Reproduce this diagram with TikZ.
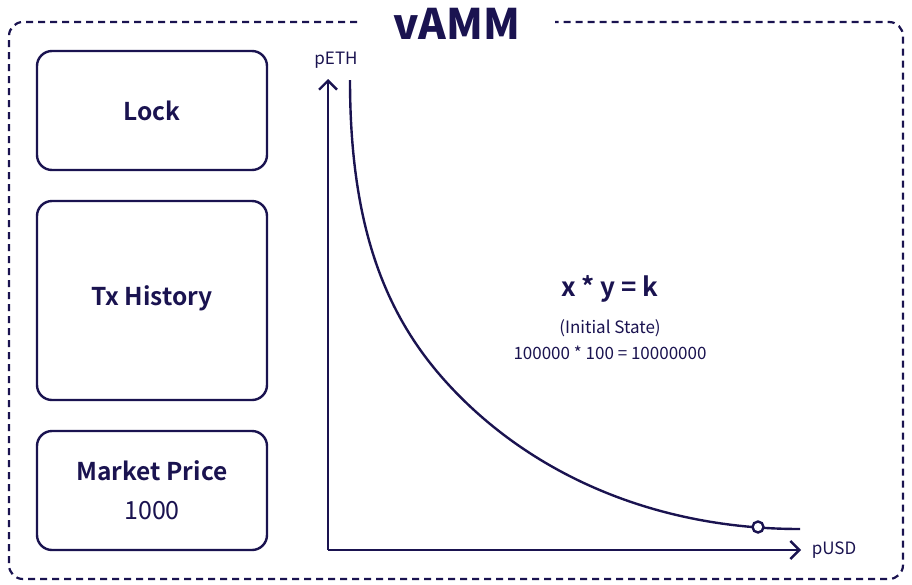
\documentclass[tikz,border=0pt]{standalone}
\usepackage{fontspec}
\setmainfont{Noto Sans CJK KR}[BoldFont={Noto Sans CJK KR Bold}]
\newfontfamily\titlefont{Noto Sans CJK KR Black}
\usetikzlibrary{arrows.meta}
\definecolor{navy}{HTML}{1A1350}
\begin{document}
\begin{tikzpicture}[x=1pt,y=-1pt,
  every node/.style={text=navy, inner sep=0pt},
  panel/.style={draw=navy, line width=2.4pt, rounded corners=15pt},
  axis/.style={draw=navy, line width=2.4pt, -{Straight Barb[length=9pt,width=18pt,line width=2.4pt]}},
  boxlabel/.style={font=\fontsize{24.5}{29}\selectfont\bfseries},
  small/.style={font=\fontsize{17}{20}\selectfont}]
\useasboundingbox (0,0) rectangle (912,584);
% outer dashed frame with a gap for the title
\draw[navy, line width=2.2pt, dash pattern=on 7pt off 5pt, rounded corners=14pt]
  (357,22) -- (9,22) -- (9,579) -- (903,579) -- (903,22) -- (555,22);
\node[font=\fontsize{42}{48}\selectfont\titlefont] (title) at (457,24) {vAMM};
% left boxes
\draw[panel] (37,51) rectangle (267,170);
\node[boxlabel] (lock) at (152,111) {Lock};
\draw[panel] (37,201) rectangle (267,400);
\node[boxlabel] (tx) at (152,298) {Tx History};
\draw[panel] (37,431) rectangle (267,550);
\node[boxlabel] (mp) at (152,471) {Market Price};
\node[font=\fontsize{25}{30}\selectfont] (mpv) at (152,511) {1000};
% axes
\coordinate (O) at (328,550);
\coordinate (ytop) at (328,79);
\coordinate (xend) at (801,550);
\draw[axis] (O) -- (ytop);
\draw[axis] (O) -- (xend);
\node[small] (yl) at (336,60) {pETH};
\node[small] (xl) at (834,550) {pUSD};
% curve
\coordinate (c0) at (350,80);
\coordinate (c1) at (447,383);
\coordinate (c2) at (800,529);
\draw[navy, line width=2.4pt] (c0) .. controls (350,230) and (387,317) .. (c1)
  .. controls (527,471) and (650,529) .. (c2);
\node[draw=navy, fill=white, line width=2.4pt, circle, minimum size=11pt] (pt) at (758,527) {};
% formula
\node[font=\fontsize{26}{30}\selectfont\bfseries] (eq) at (610,289) {x * y = k};
\node[small] (st) at (610,328) {(Initial State)};
\node[small] (val) at (610,353) {100000 * 100 = 10000000};
\end{tikzpicture}
\end{document}
